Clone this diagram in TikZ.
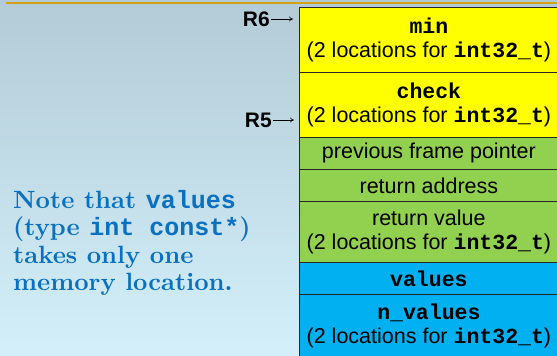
\documentclass[tikz,border=0pt]{standalone}
\usepackage{fontspec}
\usetikzlibrary{arrows.meta}
\newfontfamily\arialf{Liberation Sans}
\newfontfamily\cmonof{Liberation Mono}
\newfontfamily\notef{lmroman10-bold.otf}
\newcommand\monob[1]{{\cmonof\bfseries #1}}
\definecolor{bgtop}{HTML}{B3CBD6}
\definecolor{bgbot}{HTML}{D3F0FA}
\definecolor{goldline}{HTML}{D4A214}
\definecolor{cyell}{HTML}{FFFF00}
\definecolor{cgreen}{HTML}{92D050}
\definecolor{cblue}{HTML}{00B0F0}
\definecolor{noteblue}{HTML}{0A70C0}
\begin{document}
\begin{tikzpicture}[x=1pt,y=-1pt,
  cell/.style={draw=black!85, line width=0.8pt, anchor=north west, minimum width=259pt,
    inner sep=0pt, align=center, text=black, font=\arialf\fontsize{21.5}{24}\selectfont},
  reg/.style={font=\arialf\bfseries\fontsize{21}{21}\selectfont, anchor=east, inner sep=0pt},
  regarrow/.style={-{To[length=4pt,width=5pt]}, line width=0.6pt}
]
\useasboundingbox (0,0) rectangle (557,356);
\shade[top color=bgtop, bottom color=bgbot] (0,0) rectangle (557,356);
\draw[goldline, line width=2pt] (6,3) -- (557,3);

\node[cell, fill=cyell, minimum height=65pt] (min) at (299,7)
  {\monob{min}\\(2 locations for \monob{int32\_t})};
\node[cell, fill=cyell, minimum height=65pt] (check) at (299,72)
  {\monob{check}\\(2 locations for \monob{int32\_t})};
\node[cell, fill=cgreen, minimum height=32pt] (pfp) at (299,137)
  {previous frame pointer};
\node[cell, fill=cgreen, minimum height=32pt] (ra) at (299,169)
  {return address};
\node[cell, fill=cgreen, minimum height=61pt] (rv) at (299,201)
  {return value\\(2 locations for \monob{int32\_t})};
\node[cell, fill=cblue, minimum height=32pt] (vals) at (299,262)
  {\monob{values}};
\node[cell, fill=cblue, minimum height=64pt] (nvals) at (299,294)
  {\monob{n\_values}\\(2 locations for \monob{int32\_t})};

\node[reg] (r6) at (270,19) {R6};
\coordinate (r6end) at (293,19);
\draw[regarrow] (r6.east) ++(1,0) -- (r6end);
\node[reg] (r5) at (272,120) {R5};
\coordinate (r5end) at (294,120);
\draw[regarrow] (r5.east) ++(1,0) -- (r5end);

\node[anchor=west, align=left, text=noteblue, inner sep=0pt,
  font=\notef\fontsize{25}{27.4}\selectfont] (note) at (13,243)
  {Note that \monob{values}\\(type \monob{int const*})\\takes only one\\memory location.};
\end{tikzpicture}
\end{document}
